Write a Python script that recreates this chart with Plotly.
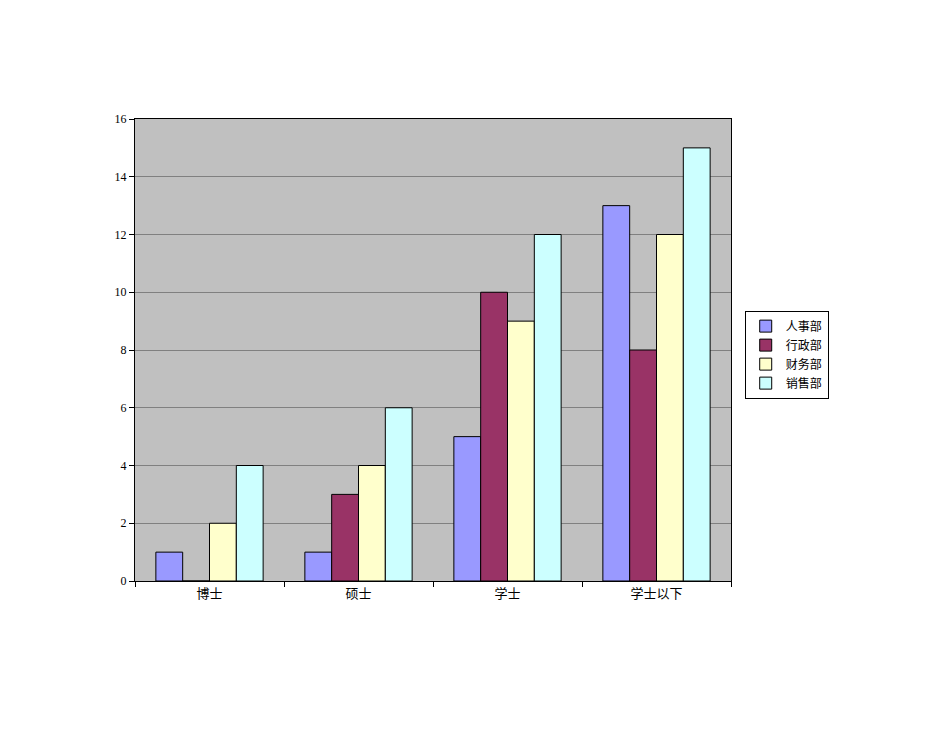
import plotly.graph_objects as go

categories = ["博士", "硕士", "学士", "学士以下"]
series_names = ["人事部", "行政部", "财务部", "销售部"]
renshi = [1, 1, 5, 13]
xingzheng = [0, 3, 10, 8]
caiwu = [2, 4, 9, 12]
xiaoshou = [4, 6, 12, 15]
colors = ["#9999FF", "#993366", "#FFFFCC", "#CCFFFF"]

fig = go.Figure()
for name, vals, col in zip(series_names, [renshi, xingzheng, caiwu, xiaoshou], colors):
    fig.add_trace(go.Bar(
        x=categories, y=vals, name=name,
        marker=dict(color=col, line=dict(color="black", width=1)),
    ))

font = "Liberation Serif, Noto Sans CJK SC, serif"
fig.update_layout(
    width=950, height=735,
    barmode="group", bargap=0.28, bargroupgap=0,
    paper_bgcolor="white", plot_bgcolor="#C0C0C0",
    margin=dict(l=127, r=227, t=111, b=162),
    font=dict(family=font, size=13, color="black"),
    showlegend=True,
    legend=dict(x=1.023, y=0.49, xanchor="left", yanchor="middle",
                bgcolor="white", bordercolor="black", borderwidth=1,
                font=dict(size=12), itemwidth=30, tracegroupgap=0),
    xaxis=dict(showline=True, linecolor="black", ticks="outside", tickson="boundaries",
               ticklen=5, tickcolor="black", mirror=True, tickfont=dict(size=13)),
    yaxis=dict(range=[0, 16], dtick=2, showline=True, linecolor="black", mirror=True,
               ticks="outside", ticklen=5, tickcolor="black",
               gridcolor="#808080", gridwidth=1, zeroline=False, tickfont=dict(size=12)),
)

fig.write_html("out.html")
